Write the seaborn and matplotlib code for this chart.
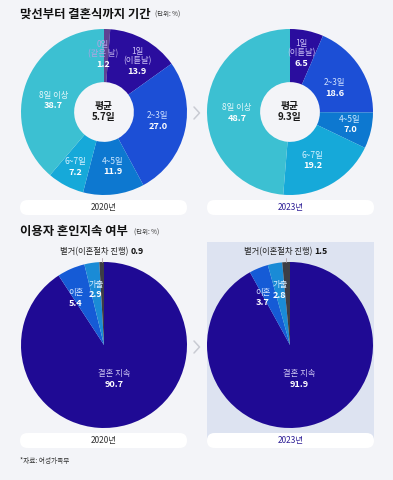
import numpy as np
import matplotlib
matplotlib.use('Agg')
import matplotlib.pyplot as plt
from matplotlib.patches import FancyBboxPatch, Rectangle
from matplotlib.transforms import ScaledTranslation
import seaborn as sns

# 데이터
period_cats = ['0일\n(같은 날)', '1일\n(이튿날)', '2~3일', '4~5일', '6~7일', '8일 이상']
period_2020 = [1.2, 13.9, 27.0, 11.9, 7.2, 38.7]
period_2023 = [0, 6.5, 18.6, 7.0, 19.2, 48.7]
avg_days = ['5.7일', '9.3일']

marriage_cats = ['결혼 지속', '이혼', '가출', '별거(이혼절차 진행)']
marriage_2020 = [90.7, 5.4, 2.9, 0.9]
marriage_2023 = [91.9, 3.7, 2.8, 1.5]

years = ['2020년', '2023년']

# 색상
period_colors = ['#5f4393', '#2a0d9e', '#1c4fd6', '#0d78d0', '#16a9d9', '#3cc0d2']
period_txt = ['#b3a3e3', '#cbc0f5', '#cfe0ff', '#cde8ff', '#d6f2ff', '#e4f7fa']
marriage_colors = ['#1f0a94', '#155bd6', '#1a8bd6', '#3d3d45']
marriage_txt = ['#cdc6f2', '#d2e2ff', '#d8eeff', '#222222']
bg_color = '#f3f4f8'

# 라벨 위치 보정 (각도 이동, 반지름)
period_nudge = [
    [(3, 0.67), (-5, 0.71), (3, 0.66), (2, 0.67), (0, 0.75), (8, 0.62)],
    [(0, 0.68), (0, 0.69), (-5, 0.61), (1, 0.74), (-5, 0.65), (4, 0.64)],
]
marriage_nudge = [(0, 0.43), (8, 0.66), (0, 0.67)]

sns.set_theme(style='white')
plt.rcParams['font.family'] = ['Noto Sans CJK KR', 'DejaVu Sans']

W, H = 393, 480
fig = plt.figure(figsize=(W / 100, H / 100), dpi=100, facecolor=bg_color)

# 픽셀 좌표용 배경 축
bg = fig.add_axes([0, 0, 1, 1])
bg.set_xlim(0, W)
bg.set_ylim(H, 0)
bg.axis('off')
bg.set_zorder(0)

# 2023 하단 패널 배경
bg.add_patch(Rectangle((207, 242), 167, 198, fc='#dde3f1', ec='none'))

# 제목
bg.text(20, 14, '맞선부터 결혼식까지 기간', fontsize=8.9, weight='bold', color='#111111', va='center')
bg.text(155, 15, '(단위: %)', fontsize=4.6, color='#333333', va='center')
bg.text(20, 232, '이용자 혼인지속 여부', fontsize=8.9, weight='bold', color='#111111', va='center')
bg.text(134, 233, '(단위: %)', fontsize=4.6, color='#333333', va='center')
bg.text(20, 461, '*자료: 여성가족부', fontsize=4.8, color='#333333', va='center')

# 연도 라벨 알약
pill_pos = [(20, 200), (207, 200), (20, 433), (207, 433)]
for i, (x0, y0) in enumerate(pill_pos):
    bg.add_patch(FancyBboxPatch((x0, y0), 167, 15,
                                boxstyle='round,pad=0,rounding_size=7.5',
                                fc='white', ec='none', zorder=3))
    col = '#333333' if i % 2 == 0 else '#2e1f96'
    bg.text(x0 + 83.5, y0 + 7.5, years[i % 2], fontsize=6, color=col,
            ha='center', va='center', zorder=4)

# 화살표
for yy in [113, 347]:
    bg.plot([194, 199.5, 194], [yy - 6, yy, yy + 6], color='#c9cbd3', lw=1.1)


def make_ax(cx, cy, r=83, pad=1.25):
    ax = fig.add_axes([(cx - r * pad) / W, 1 - (cy + r * pad) / H,
                       2 * r * pad / W, 2 * r * pad / H])
    ax.set_zorder(1)
    ax.patch.set_visible(False)
    return ax, pad


def put_label(ax, x, y, cat, val, ccol, vcol):
    ax.annotate(cat, (x, y), xytext=(0, 0.8), textcoords='offset points',
                ha='center', va='bottom', fontsize=6, color=ccol, linespacing=1.05)
    ax.annotate(f'{val:.1f}', (x, y), xytext=(0, -0.3), textcoords='offset points',
                ha='center', va='top', fontsize=6.6, weight='bold', color=vcol)


# 도넛 차트 (기간)
for k, (vals, cx) in enumerate([(period_2020, 104), (period_2023, 290)]):
    ax, pad = make_ax(cx, 112)
    wedges, _ = ax.pie(vals, colors=period_colors, startangle=90, counterclock=False,
                       radius=1, wedgeprops=dict(width=0.64, linewidth=0))
    ax.set_xlim(-pad, pad)
    ax.set_ylim(-pad, pad)
    ax.set_aspect('equal')
    for i, w in enumerate(wedges):
        if vals[i] == 0:
            continue
        da, r = period_nudge[k][i]
        mid = np.deg2rad((w.theta1 + w.theta2) / 2 + da)
        x, y = r * np.cos(mid), r * np.sin(mid)
        y -= 0.035 * period_cats[i].count('\n')
        put_label(ax, x, y, period_cats[i], vals[i], period_txt[i], 'white')
    ax.text(0, 0.075, '평균', ha='center', va='center', fontsize=7, weight='bold', color='#1a1a1a')
    ax.text(0, -0.065, avg_days[k], ha='center', va='center', fontsize=7, weight='bold', color='#1a1a1a')

# 파이 차트 (혼인지속)
renderer = fig.canvas.get_renderer()
for vals, cx in [(marriage_2020, 104), (marriage_2023, 290)]:
    ax, pad = make_ax(cx, 345)
    wedges, _ = ax.pie(vals, colors=marriage_colors, startangle=90, counterclock=False,
                       radius=1, wedgeprops=dict(linewidth=0))
    ax.set_xlim(-pad, pad)
    ax.set_ylim(-pad, pad)
    ax.set_aspect('equal')
    for i, w in enumerate(wedges):
        middeg = (w.theta1 + w.theta2) / 2
        if i < 3:
            da, r = marriage_nudge[i]
            mid = np.deg2rad(middeg + da)
            put_label(ax, r * np.cos(mid), r * np.sin(mid),
                      marriage_cats[i], vals[i], marriage_txt[i], 'white')
        else:
            mid = np.deg2rad(middeg)
            x = np.cos(mid)
            ax.plot([np.cos(mid), np.cos(mid)], [np.sin(mid), 1.05],
                    color='#b0a0a8', lw=0.6, clip_on=False)
            t1 = ax.text(x, 1.13, marriage_cats[i] + ' ', ha='left', va='center',
                         fontsize=6, color='#222222')
            t2 = ax.text(x, 1.13, f'{vals[i]:.1f}', ha='left', va='center',
                         fontsize=6.3, weight='bold', color='#111111')
            w1 = t1.get_window_extent(renderer).width
            w2 = t2.get_window_extent(renderer).width
            tot = w1 + w2
            t1.set_transform(ax.transData + ScaledTranslation(-tot / 2 / 100, 0, fig.dpi_scale_trans))
            t2.set_transform(ax.transData + ScaledTranslation((w1 - tot / 2) / 100, 0, fig.dpi_scale_trans))

fig.savefig('out.png', dpi=100, facecolor=fig.get_facecolor())
